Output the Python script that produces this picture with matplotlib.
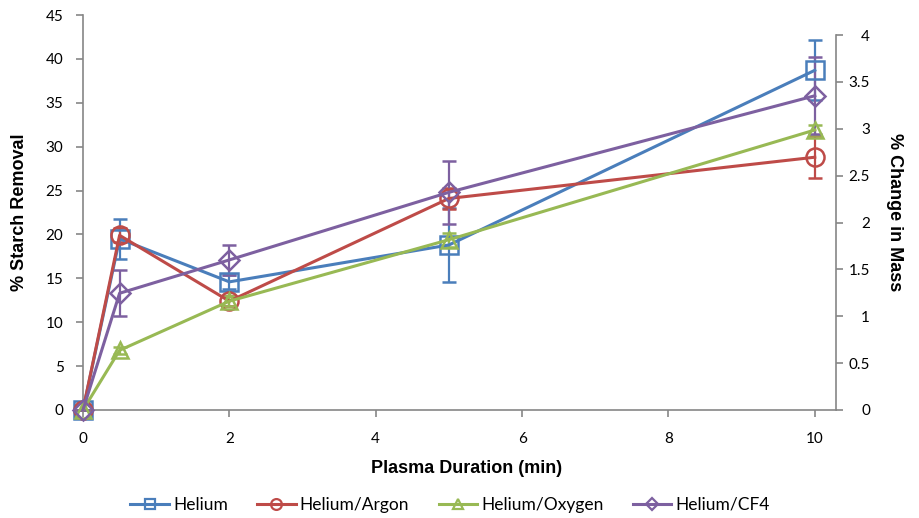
import matplotlib.pyplot as plt
from matplotlib.lines import Line2D

# data
duration = [0, 0.5, 2, 5, 10]

helium = [0, 19.5, 14.6, 18.8, 38.7]
helium_err = [0, 2.3, 0.8, 4.2, 3.4]

argon = [0, 19.9, 12.4, 24.1, 28.8]
argon_err = [0, 0.8, 0.6, 1.2, 2.4]

oxygen = [0, 6.8, 12.4, 19.4, 31.9]
oxygen_err = [0, 0.4, 0.6, 0.8, 0.6]

cf4 = [0, 13.3, 17.1, 24.8, 35.8]
cf4_err = [0, 2.6, 1.7, 3.6, 4.4]

left_ticks = [0, 5, 10, 15, 20, 25, 30, 35, 40, 45]
right_ticks = [0, 0.5, 1, 1.5, 2, 2.5, 3, 3.5, 4]
right_labels = ['0', '0.5', '1', '1.5', '2', '2.5', '3', '3.5', '4']
x_ticks = [0, 2, 4, 6, 8, 10]

series = [
    ('Helium', helium, helium_err, '#4A7EBB', 's', 13),
    ('Helium/Argon', argon, argon_err, '#BE4B48', 'o', 13),
    ('Helium/Oxygen', oxygen, oxygen_err, '#98B954', '^', 12),
    ('Helium/CF4', cf4, cf4_err, '#7D60A0', 'D', 10),
]

tick_font = 'Lato'
label_font = 'Liberation Sans'
axis_gray = '#868686'

fig = plt.figure(figsize=(9.19, 5.18), dpi=100)
ax = fig.add_axes([0.0903, 0.2085, 0.8194, 0.7625])

handles = []
for name, vals, err, col, mk, ms in series:
    ax.errorbar(duration, vals, yerr=err, color=col, marker=mk,
                markersize=ms, markerfacecolor='none', markeredgewidth=1.8,
                linewidth=2.2, elinewidth=1.6, capsize=5, capthick=1.6,
                clip_on=False, zorder=3)
    handles.append(Line2D([], [], color=col, marker=mk, markersize=ms * 0.6,
                          markerfacecolor='none', markeredgewidth=1.6,
                          linewidth=2.2, label=name))

ax.set_xlim(0, 10.29)
ax.set_ylim(0, 45)
ax.set_xticks(x_ticks)
ax.set_yticks(left_ticks)
for side in ['top', 'right']:
    ax.spines[side].set_visible(False)
for side in ['left', 'bottom']:
    ax.spines[side].set_color(axis_gray)
    ax.spines[side].set_linewidth(1.2)
ax.tick_params(axis='both', colors=axis_gray, length=5, width=1.2,
               labelcolor='black', labelsize=11)
ax.tick_params(axis='x', pad=11)
ax.tick_params(axis='y', pad=9)
for lbl in ax.get_xticklabels() + ax.get_yticklabels():
    lbl.set_fontfamily(tick_font)

ax.set_xlabel('Plasma Duration (min)', fontsize=13, fontweight='bold',
              family=label_font, va='center')
ax.xaxis.set_label_coords(0.51, -0.147)
ax.set_ylabel('% Starch Removal', fontsize=13, fontweight='bold',
              family=label_font, va='center')
ax.yaxis.set_label_coords(-0.084, 0.5)

# secondary axis
ax2 = ax.twinx()
ax2.set_ylim(0, 4 * 395 / 375)
ax2.set_yticks(right_ticks)
ax2.set_yticklabels(right_labels)
for side in ['top', 'left', 'bottom']:
    ax2.spines[side].set_visible(False)
ax2.spines['right'].set_color(axis_gray)
ax2.spines['right'].set_linewidth(1.2)
ax2.spines['right'].set_bounds(0, 4)
ax2.tick_params(axis='y', colors=axis_gray, length=5, width=1.2,
                labelcolor='black', labelsize=11, pad=19.5)
for lbl in ax2.get_yticklabels():
    lbl.set_fontfamily(tick_font)
    lbl.set_horizontalalignment('right')
ax2.set_ylabel('% Change in Mass', fontsize=13, fontweight='bold',
               family=label_font, rotation=270, va='center', ha='center')
ax2.yaxis.set_label_coords(1.078, 0.5)

fig.legend(handles=handles, loc='center', ncol=4, frameon=False,
           bbox_to_anchor=(0.49, 1 - 505 / 518),
           prop={'family': tick_font, 'size': 12.5},
           columnspacing=1.7, handlelength=2.2, handletextpad=0.25)

plt.savefig('out.png', dpi=100)
